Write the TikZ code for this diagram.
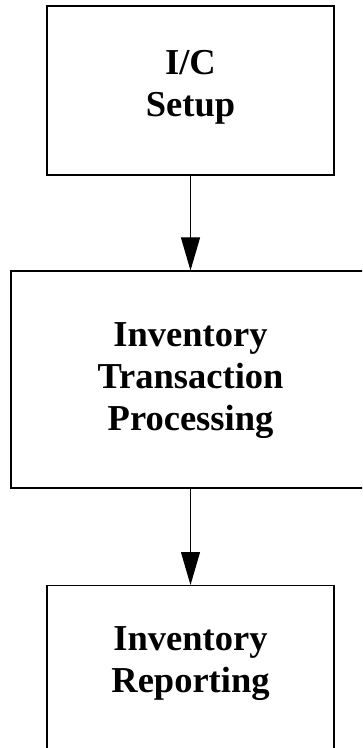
\documentclass[tikz,border=0pt]{standalone}
\usepackage{fontspec}
\setmainfont{Liberation Serif}
\usetikzlibrary{arrows.meta}
\begin{document}
\begin{tikzpicture}[x=1pt,y=-1pt,
  boxstyle/.style={draw=black, line width=1.1pt, fill=white, inner sep=0pt},
  lbl/.style={align=center, inner sep=0pt, font=\bfseries\fontsize{36.5}{42}\selectfont},
  conn/.style={line width=1pt, -{Triangle[length=33pt,width=19pt]}}]
\useasboundingbox (0,0) rectangle (362,748);
\clip (0,0) rectangle (362,748);
\node[boxstyle, minimum width=287pt, minimum height=169pt] (b1) at (190.5,90.5) {};
\node[boxstyle, minimum width=359pt, minimum height=217pt] (b2) at (190.5,379.5) {};
\node[boxstyle, minimum width=287pt, minimum height=200pt, anchor=north] (b3) at (190.5,585) {};
\node[lbl] (t1) at (190.5,87.5) {I/C\\Setup};
\node[lbl] (t2) at (190.5,381) {Inventory\\Transaction\\Processing};
\node[lbl] (t3) at (190.5,664) {Inventory\\Reporting};
\draw[conn] (b1.south) -- (b2.north);
\draw[conn] (b2.south) -- (b3.north);
\end{tikzpicture}
\end{document}
